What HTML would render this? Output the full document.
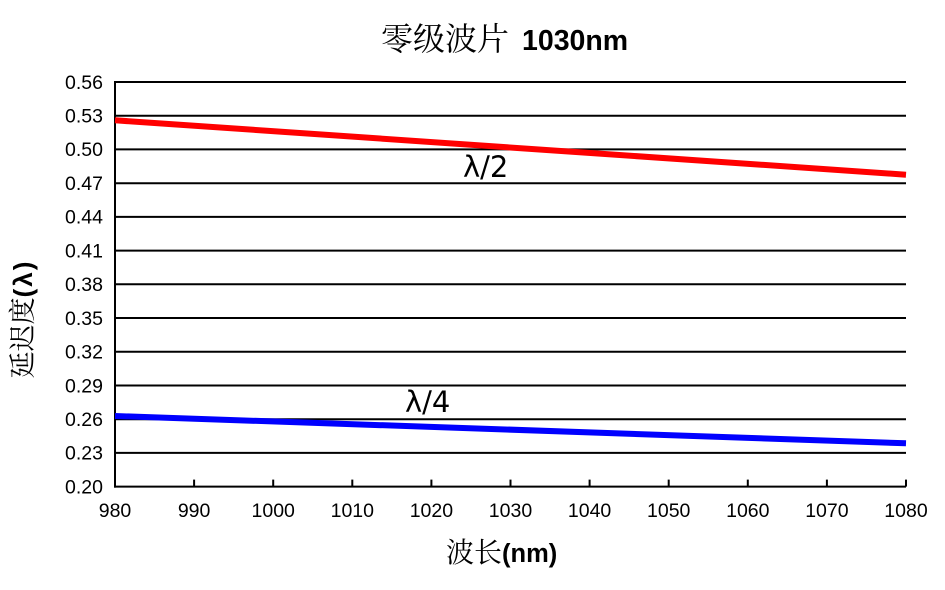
<!DOCTYPE html>
<html><head><meta charset="utf-8"><style>
html,body{margin:0;padding:0;background:#fff;}
svg{display:block;}
</style></head><body>
<svg width="945" height="590" viewBox="0 0 945 590" xmlns="http://www.w3.org/2000/svg">
<rect width="945" height="590" fill="#fff"/>
<g stroke="#000" stroke-width="2">
<line x1="115" y1="82" x2="906" y2="82"/>
<line x1="115" y1="115.7" x2="906" y2="115.7"/>
<line x1="115" y1="149.4" x2="906" y2="149.4"/>
<line x1="115" y1="183.2" x2="906" y2="183.2"/>
<line x1="115" y1="216.9" x2="906" y2="216.9"/>
<line x1="115" y1="250.6" x2="906" y2="250.6"/>
<line x1="115" y1="284.3" x2="906" y2="284.3"/>
<line x1="115" y1="318" x2="906" y2="318"/>
<line x1="115" y1="351.8" x2="906" y2="351.8"/>
<line x1="115" y1="385.5" x2="906" y2="385.5"/>
<line x1="115" y1="419.2" x2="906" y2="419.2"/>
<line x1="115" y1="452.9" x2="906" y2="452.9"/>
<line x1="114" y1="486.6" x2="906" y2="486.6"/>
<line x1="115" y1="81" x2="115" y2="487.6"/>
<line x1="194.1" y1="479.6" x2="194.1" y2="486.6"/>
<line x1="273.2" y1="479.6" x2="273.2" y2="486.6"/>
<line x1="352.3" y1="479.6" x2="352.3" y2="486.6"/>
<line x1="431.4" y1="479.6" x2="431.4" y2="486.6"/>
<line x1="510.5" y1="479.6" x2="510.5" y2="486.6"/>
<line x1="589.6" y1="479.6" x2="589.6" y2="486.6"/>
<line x1="668.7" y1="479.6" x2="668.7" y2="486.6"/>
<line x1="747.8" y1="479.6" x2="747.8" y2="486.6"/>
<line x1="826.9" y1="479.6" x2="826.9" y2="486.6"/>
<line x1="906" y1="479.6" x2="906" y2="486.6"/>
</g>
<line x1="115" y1="120.3" x2="906" y2="174.7" stroke="#ff0000" stroke-width="6"/>
<line x1="115" y1="416" x2="906" y2="443.3" stroke="#0000ff" stroke-width="6"/>
<g font-family="Liberation Sans, Arial, sans-serif" font-size="19.5" fill="#000" text-anchor="end">
<text x="103" y="88.8">0.56</text>
<text x="103" y="122.5">0.53</text>
<text x="103" y="156.2">0.50</text>
<text x="103" y="190">0.47</text>
<text x="103" y="223.7">0.44</text>
<text x="103" y="257.4">0.41</text>
<text x="103" y="291.1">0.38</text>
<text x="103" y="324.8">0.35</text>
<text x="103" y="358.6">0.32</text>
<text x="103" y="392.3">0.29</text>
<text x="103" y="426">0.26</text>
<text x="103" y="459.7">0.23</text>
<text x="103" y="493.4">0.20</text>
</g>
<g font-family="Liberation Sans, Arial, sans-serif" font-size="19.5" fill="#000" text-anchor="middle">
<text x="115" y="517">980</text>
<text x="194.1" y="517">990</text>
<text x="273.2" y="517">1000</text>
<text x="352.3" y="517">1010</text>
<text x="431.4" y="517">1020</text>
<text x="510.5" y="517">1030</text>
<text x="589.6" y="517">1040</text>
<text x="668.7" y="517">1050</text>
<text x="747.8" y="517">1060</text>
<text x="826.9" y="517">1070</text>
<text x="906" y="517">1080</text>
</g>
<text x="381" y="50" fill="#000"><tspan font-family="Noto Serif CJK SC, serif" font-size="32">零级波片</tspan><tspan x="522" font-family="Liberation Sans, Arial, sans-serif" font-weight="bold" font-size="28.5">1030nm</tspan></text>
<text x="446" y="562" fill="#000"><tspan font-family="Noto Serif CJK SC, serif" font-size="28">波长</tspan><tspan font-family="Liberation Sans, Arial, sans-serif" font-weight="bold" font-size="25.5">(nm)</tspan></text>
<text transform="translate(32,319) rotate(-90)" text-anchor="middle" fill="#000"><tspan font-family="Noto Serif CJK SC, serif" font-size="27">延迟度</tspan><tspan font-family="Liberation Sans, Arial, sans-serif" font-weight="bold" font-size="26" letter-spacing="2">(λ)</tspan></text>
<text x="463" y="177" font-family="DejaVu Sans, sans-serif" font-size="29" fill="#000">λ/2</text>
<text x="405" y="412" font-family="DejaVu Sans, sans-serif" font-size="29" fill="#000">λ/4</text>
</svg>
</body></html>
